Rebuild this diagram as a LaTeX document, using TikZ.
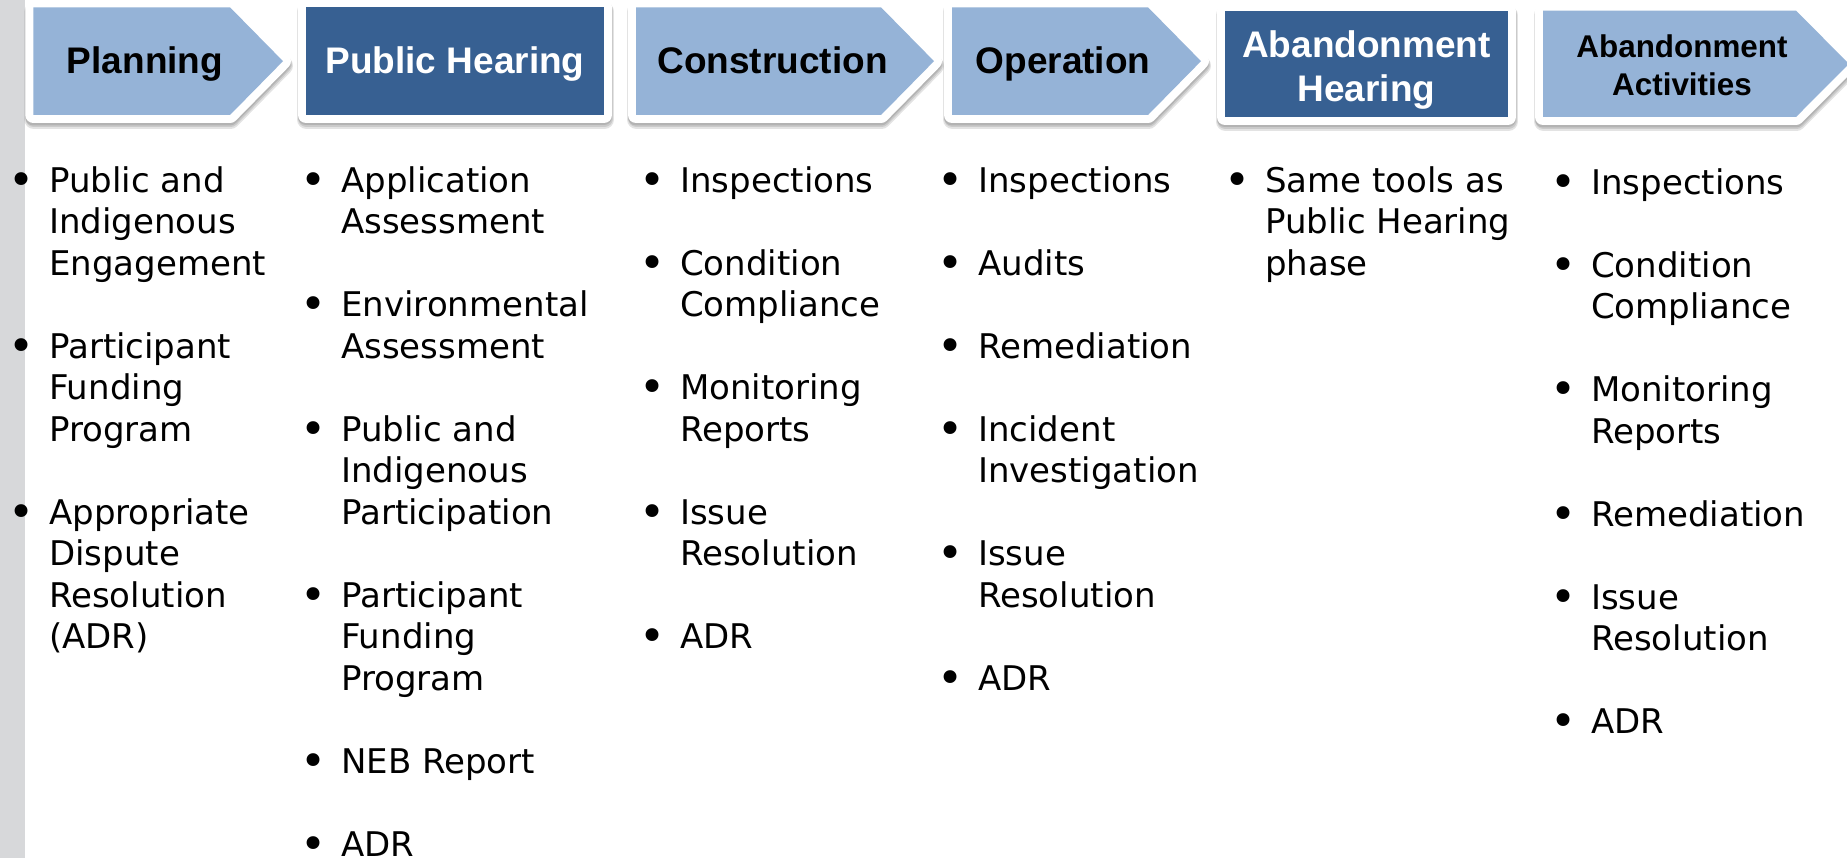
\documentclass[tikz,border=0pt]{standalone}
\usepackage{fontspec}
\usepackage{graphicx}
\setmainfont{DejaVu Sans}
\newfontfamily\hdfont{Liberation Sans}
\usepackage{array}
\definecolor{lb}{HTML}{95B3D7}
\definecolor{db}{HTML}{376092}
\definecolor{barg}{HTML}{D7D8DA}
\newcommand\penta[4]{(#1,#3) -- (#2,#3) -- ({#2+53},{(#3+#4)/2}) -- (#2,#4) -- (#1,#4) -- cycle}
\newcommand\rectp[4]{(#1,#3) -- (#2,#3) -- (#2,#4) -- (#1,#4) -- cycle}
\newcommand\phaseshape[2]{%
  \path[shadowlayer, line width=19pt, shift={(0.5,4.5)}] #1;
  \path[shadowlayer, line width=17pt, shift={(0.5,3.5)}] #1;
  \path[shadowlayer, line width=16pt, shift={(0,2.5)}] #1;
  \path[rimlayer] #1;
  \path[fill=#2] #1;
}
\newcommand\bul{\raisebox{-3pt}{\scalebox{1.3}{\textbullet}}}
\newcommand\colbox[1]{{\fontsize{34}{41.5}\selectfont\begin{tabular}[t]{@{}p{41pt}@{}l@{}}#1\end{tabular}}}
\tikzset{
  shadowlayer/.style={fill=black, draw=black, line join=round, opacity=0.11},
  rimlayer/.style={fill=white, draw=white, line width=16pt, line join=round},
  hd/.style={font=\hdfont\bfseries\fontsize{37}{44}\selectfont, inner sep=0pt, anchor=base, text=black},
  hdw/.style={hd, text=white},
  hdsm/.style={font=\hdfont\bfseries\fontsize{31.4}{37.5}\selectfont, inner sep=0pt, anchor=base, text=black},
  col/.style={inner sep=0pt, anchor=base west, text=black}
}
\begin{document}
\begin{tikzpicture}[x=1pt,y=-1pt]
\useasboundingbox (0,0) rectangle (1847,858);
\fill[white] (0,0) rectangle (1847,858);
\fill[barg] (0,0) rectangle (25,858);
% header shapes
\phaseshape{\penta{33.3}{230}{7.3}{115}}{lb}
\phaseshape{\rectp{306}{604}{7.3}{115}}{db}
\phaseshape{\penta{636}{881}{7.3}{115}}{lb}
\phaseshape{\penta{952}{1148}{7.3}{115}}{lb}
\phaseshape{\rectp{1225}{1508}{10.7}{117}}{db}
\phaseshape{\penta{1543}{1796}{10.7}{117}}{lb}
% header texts
\node[hd] (planning) at (145,74) {Planning};
\node[hdw] (hearing) at (455,74) {Public Hearing};
\node[hd] (construction) at (772.5,74) {Construction};
\node[hd] (operation) at (1063,74) {Operation};
\node[hdw] (abhearing) at (1366.5,57.5) {\parbox[t]{300pt}{\centering Abandonment\\Hearing}};
\node[hdsm] (abactivities) at (1682,58) {\parbox[t]{300pt}{\centering Abandonment\\Activities}};
% bullet columns
\node[col] (c1) at (8,192.5) {\colbox{%
\bul & Public and\\ & Indigenous\\ & Engagement\\ & \\
\bul & Participant\\ & Funding\\ & Program\\ & \\
\bul & Appropriate\\ & Dispute\\ & Resolution\\ & (ADR)}};
\node[col] (c2) at (300,192.5) {\colbox{%
\bul & Application\\ & Assessment\\ & \\
\bul & Environmental\\ & Assessment\\ & \\
\bul & Public and\\ & Indigenous\\ & Participation\\ & \\
\bul & Participant\\ & Funding\\ & Program\\ & \\
\bul & NEB Report\\ & \\
\bul & ADR}};
\node[col] (c3) at (639,192.5) {\colbox{%
\bul & Inspections\\ & \\
\bul & Condition\\ & Compliance\\ & \\
\bul & Monitoring\\ & Reports\\ & \\
\bul & Issue\\ & Resolution\\ & \\
\bul & ADR}};
\node[col] (c4) at (937,192.5) {\colbox{%
\bul & Inspections\\ & \\
\bul & Audits\\ & \\
\bul & Remediation\\ & \\
\bul & Incident\\ & Investigation\\ & \\
\bul & Issue\\ & Resolution\\ & \\
\bul & ADR}};
\node[col] (c5) at (1224,192.5) {\colbox{%
\bul & Same tools as\\ & Public Hearing\\ & phase}};
\node[col] (c6) at (1550,194.5) {\colbox{%
\bul & Inspections\\ & \\
\bul & Condition\\ & Compliance\\ & \\
\bul & Monitoring\\ & Reports\\ & \\
\bul & Remediation\\ & \\
\bul & Issue\\ & Resolution\\ & \\
\bul & ADR}};
\end{tikzpicture}
\end{document}
